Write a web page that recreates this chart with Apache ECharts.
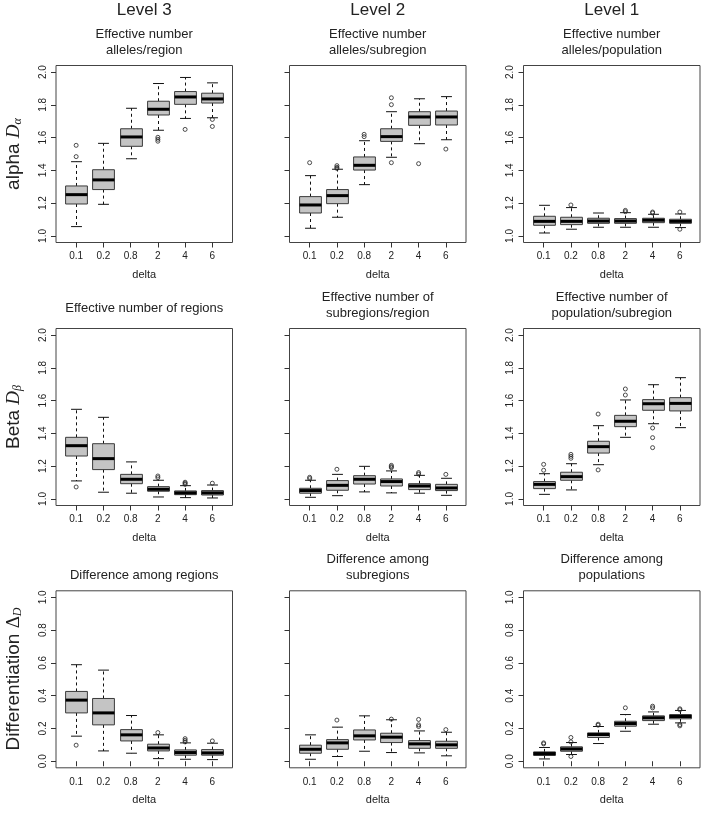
<!DOCTYPE html>
<html><head><meta charset="utf-8">
<script src="https://cdn.jsdelivr.net/npm/echarts@6/dist/echarts.min.js"></script>
<style>html,body{margin:0;padding:0;background:#fff}#c{width:709px;height:814px}</style>
</head><body><div id="c"></div>
<script>
// ---- data ----
const cats = ['0.1','0.2','0.8','2','4','6'];
const yTicksTop = [1.0,1.2,1.4,1.6,1.8,2.0];
const yTicksBottom = [0.0,0.2,0.4,0.6,0.8,1.0];
const levelTitles = ['Level 3','Level 2','Level 1'];
const panelTitles = [
  'Effective number\nalleles/region','Effective number\nalleles/subregion','Effective number\nalleles/population',
  'Effective number of regions','Effective number of\nsubregions/region','Effective number of\npopulation/subregion',
  'Difference among regions','Difference among\nsubregions','Difference among\npopulations'
];
// box stats per category: [lower whisker, Q1, median, Q3, upper whisker]
const alphaRegion = [[1.057,1.195,1.252,1.305,1.453],[1.193,1.283,1.342,1.404,1.565],[1.471,1.547,1.604,1.654,1.779],[1.645,1.738,1.773,1.822,1.930],[1.717,1.803,1.848,1.881,1.967],[1.721,1.811,1.836,1.871,1.934]];
const alphaRegionOut = [[0,1.553],[0,1.484],[3,1.602],[3,1.590],[3,1.578],[4,1.650],[5,1.711],[5,1.668]];
const alphaSubregion = [[1.047,1.140,1.189,1.240,1.368],[1.114,1.197,1.246,1.283,1.407],[1.313,1.402,1.431,1.482,1.581],[1.480,1.577,1.606,1.654,1.758],[1.563,1.675,1.726,1.758,1.837],[1.587,1.677,1.726,1.762,1.850]];
const alphaSubregionOut = [[0,1.447],[1,1.429],[1,1.419],[1,1.412],[2,1.620],[2,1.606],[3,1.843],[3,1.801],[3,1.447],[4,1.441],[5,1.530]];
const alphaPopulation = [[1.018,1.065,1.089,1.120,1.187],[1.041,1.069,1.089,1.114,1.173],[1.053,1.077,1.091,1.108,1.140],[1.053,1.077,1.091,1.106,1.142],[1.053,1.081,1.096,1.108,1.132],[1.051,1.077,1.089,1.102,1.134]];
const alphaPopulationOut = [[1,1.189],[3,1.156],[3,1.148],[4,1.146],[4,1.140],[5,1.146],[5,1.041]];
const betaRegion = [[1.110,1.262,1.325,1.376,1.547],[1.041,1.179,1.246,1.337,1.498],[1.035,1.093,1.120,1.150,1.226],[1.012,1.047,1.059,1.075,1.114],[1.008,1.026,1.037,1.049,1.081],[1.006,1.024,1.037,1.051,1.085]];
const betaRegionOut = [[0,1.073],[3,1.140],[3,1.130],[4,1.102],[4,1.096],[4,1.089],[5,1.096]];
const betaSubregion = [[1.010,1.035,1.051,1.065,1.114],[1.020,1.053,1.083,1.112,1.150],[1.043,1.091,1.120,1.142,1.199],[1.037,1.079,1.106,1.122,1.171],[1.035,1.057,1.079,1.093,1.144],[1.022,1.051,1.067,1.089,1.126]];
const betaSubregionOut = [[0,1.132],[0,1.124],[1,1.181],[3,1.205],[3,1.197],[3,1.191],[4,1.161],[4,1.152],[5,1.150]];
const betaPopulation = [[1.028,1.063,1.089,1.106,1.154],[1.055,1.114,1.136,1.163,1.215],[1.209,1.280,1.319,1.352,1.447],[1.376,1.441,1.474,1.510,1.604],[1.459,1.541,1.581,1.606,1.697],[1.435,1.537,1.583,1.618,1.740]];
const betaPopulationOut = [[0,1.211],[0,1.175],[1,1.272],[1,1.260],[1,1.248],[2,1.518],[2,1.177],[3,1.671],[3,1.634],[4,1.433],[4,1.374],[4,1.313]];
const diffRegion = [[0.153,0.295,0.373,0.426,0.589],[0.063,0.222,0.295,0.383,0.556],[0.049,0.124,0.161,0.193,0.279],[0.016,0.063,0.081,0.104,0.161],[0.012,0.037,0.053,0.069,0.112],[0.010,0.037,0.051,0.071,0.110]];
const diffRegionOut = [[0,0.098],[3,0.175],[4,0.138],[4,0.128],[4,0.118],[5,0.124]];
const diffSubregion = [[0.012,0.049,0.073,0.098,0.161],[0.029,0.073,0.112,0.132,0.208],[0.061,0.130,0.155,0.191,0.277],[0.053,0.114,0.147,0.171,0.253],[0.051,0.079,0.106,0.126,0.185],[0.033,0.079,0.100,0.122,0.177]];
const diffSubregionOut = [[1,0.251],[3,0.257],[4,0.255],[4,0.222],[4,0.212],[5,0.193]];
const diffPopulation = [[0.014,0.035,0.047,0.057,0.084],[0.041,0.061,0.075,0.088,0.114],[0.108,0.145,0.163,0.173,0.212],[0.183,0.214,0.230,0.244,0.285],[0.226,0.248,0.265,0.277,0.301],[0.234,0.259,0.273,0.285,0.310]];
const diffPopulationOut = [[0,0.112],[0,0.106],[1,0.145],[1,0.118],[1,0.029],[2,0.226],[2,0.220],[3,0.326],[4,0.336],[4,0.326],[5,0.320],[5,0.314],[5,0.224],[5,0.216]];

const panelStats = [alphaRegion, alphaSubregion, alphaPopulation, betaRegion, betaSubregion, betaPopulation, diffRegion, diffSubregion, diffPopulation];
const panelOut = [alphaRegionOut, alphaSubregionOut, alphaPopulationOut, betaRegionOut, betaSubregionOut, betaPopulationOut, diffRegionOut, diffSubregionOut, diffPopulationOut];

// ---- layout ----
const colLeft = [56, 289.5, 523.5];
const rowTop = [65.5, 328.5, 590.8];
const W = 176.5, H = 177;
const FONT = '"Liberation Sans", Arial, Helvetica, sans-serif';
const ink = '#222';

const grids = [], xAxes = [], yAxes = [], series = [], graphics = [];

function renderBox(params, api) {
  const x = api.value(0);
  const pLo = api.coord([x, api.value(1)]);
  const pQ1 = api.coord([x, api.value(2)]);
  const pMed = api.coord([x, api.value(3)]);
  const pQ3 = api.coord([x, api.value(4)]);
  const pHi = api.coord([x, api.value(5)]);
  const bw = api.size([0.8, 0])[0];
  const cw = api.size([0.4, 0])[0];
  const cx = Math.round(pLo[0]) + 0.5;
  const dash = {stroke: '#111', lineWidth: 1, lineDash: [3, 3]};
  const solid = {stroke: '#111', lineWidth: 1};
  return {
    type: 'group',
    children: [
      {type: 'line', shape: {x1: cx, y1: pQ3[1], x2: cx, y2: pHi[1]}, style: dash},
      {type: 'line', shape: {x1: cx, y1: pQ1[1], x2: cx, y2: pLo[1]}, style: dash},
      {type: 'line', shape: {x1: cx - cw / 2, y1: pHi[1], x2: cx + cw / 2, y2: pHi[1]}, style: solid},
      {type: 'line', shape: {x1: cx - cw / 2, y1: pLo[1], x2: cx + cw / 2, y2: pLo[1]}, style: solid},
      {type: 'rect', shape: {x: cx - bw / 2, y: pQ3[1], width: bw, height: pQ1[1] - pQ3[1]},
        style: {fill: '#c4c4c4', stroke: '#3a3a3a', lineWidth: 1}},
      {type: 'line', shape: {x1: cx - bw / 2, y1: pMed[1], x2: cx + bw / 2, y2: pMed[1]},
        style: {stroke: '#000', lineWidth: 3}}
    ]
  };
}

for (let r = 0; r < 3; r++) {
  for (let c = 0; c < 3; c++) {
    const i = r * 3 + c;
    grids.push({left: colLeft[c], top: rowTop[r], width: W, height: H, show: true,
      borderColor: '#444', borderWidth: 1, backgroundColor: 'transparent', containLabel: false});
    xAxes.push({
      type: 'value', gridIndex: i, min: 0.26, max: 6.74,
      axisLine: {show: false}, splitLine: {show: false},
      axisTick: {show: true, customValues: [1, 2, 3, 4, 5, 6], length: 5, lineStyle: {color: '#333'}},
      axisLabel: {show: true, customValues: [1, 2, 3, 4, 5, 6], formatter: v => cats[Math.round(v) - 1],
        fontFamily: FONT, fontSize: 10, color: ink, margin: 9},
      name: 'delta', nameLocation: 'middle', nameGap: 27,
      nameTextStyle: {fontFamily: FONT, fontSize: 11, color: ink}
    });
    const ticks = r === 2 ? yTicksBottom : yTicksTop;
    yAxes.push({
      type: 'value', gridIndex: i, min: r === 2 ? -0.04 : 0.96, max: r === 2 ? 1.04 : 2.04,
      axisLine: {show: false}, splitLine: {show: false},
      axisTick: {show: true, customValues: ticks, length: 5, lineStyle: {color: '#333'}},
      axisLabel: {show: c !== 1, customValues: ticks, rotate: 90, formatter: v => v.toFixed(1),
        fontFamily: FONT, fontSize: 10, color: ink, margin: 8}
    });
    series.push({
      type: 'custom', xAxisIndex: i, yAxisIndex: i, renderItem: renderBox,
      encode: {x: 0, y: [1, 2, 3, 4, 5]},
      data: panelStats[i].map((s, k) => [k + 1].concat(s)), z: 2
    });
    series.push({
      type: 'scatter', xAxisIndex: i, yAxisIndex: i, symbol: 'circle', symbolSize: 4,
      itemStyle: {color: 'rgba(0,0,0,0)', borderColor: '#222', borderWidth: 1},
      data: panelOut[i].map(o => [o[0] + 1, o[1]]), z: 3
    });
    // panel title
    const two = panelTitles[i].indexOf('\n') >= 0;
    const ty = r === 0 ? 42 : (r === 1 ? (two ? 305 : 308) : (two ? 567 : 575));
    graphics.push({type: 'text', x: colLeft[c] + W / 2, y: ty,
      style: {text: panelTitles[i], fill: ink, font: '13px ' + FONT, textAlign: 'center',
        textVerticalAlign: 'middle', lineHeight: 16}});
  }
}
for (let c = 0; c < 3; c++) {
  graphics.push({type: 'text', x: colLeft[c] + W / 2, y: 10,
    style: {text: levelTitles[c], fill: ink, font: '17px ' + FONT, textAlign: 'center', textVerticalAlign: 'middle'}});
}
const rowLabels = ['{n|alpha }{d|D}{s|α}', '{n|Beta }{d|D}{s|β}', '{n|Differentiation }{g|Δ}{s|D}'];
const rowY = [154, 417, 679];
const rich = {
  n: {fontFamily: FONT, fontSize: 19, fill: ink, color: ink},
  d: {fontFamily: '"Liberation Serif", "DejaVu Serif", serif', fontStyle: 'italic', fontSize: 19, color: ink, fill: ink},
  g: {fontFamily: '"Liberation Serif", "DejaVu Serif", serif', fontSize: 19, color: ink, fill: ink},
  s: {fontFamily: '"Liberation Serif", "DejaVu Serif", serif', fontStyle: 'italic', fontSize: 12, color: ink, fill: ink, verticalAlign: 'bottom', padding: [8, 0, 0, 0]}
};
for (let r = 0; r < 3; r++) {
  graphics.push({type: 'text', x: 14, y: rowY[r], rotation: Math.PI / 2,
    style: {text: rowLabels[r], rich: rich, fill: ink, font: '19px ' + FONT, textAlign: 'center', textVerticalAlign: 'middle'}});
}

const chart = echarts.init(document.getElementById('c'), null, {renderer: 'canvas'});
chart.setOption({
  animation: false,
  backgroundColor: '#fff',
  grid: grids, xAxis: xAxes, yAxis: yAxes, series: series, graphic: graphics
});
</script>
</body></html>
